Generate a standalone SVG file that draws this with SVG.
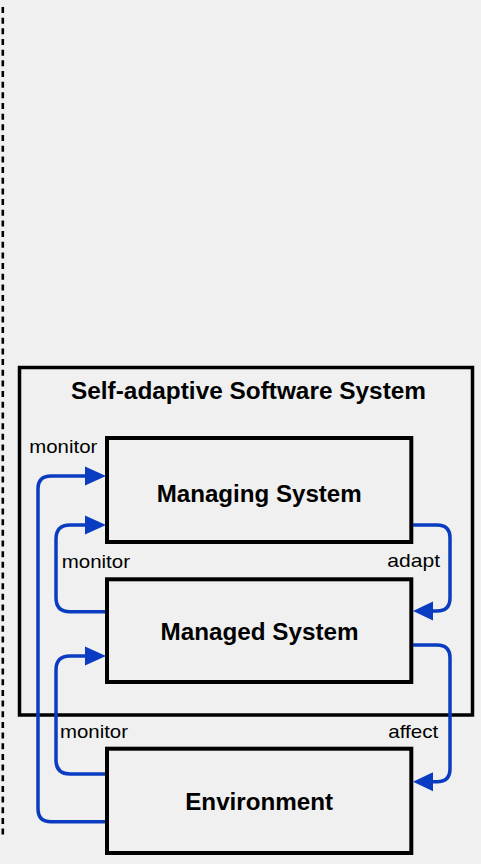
<svg xmlns="http://www.w3.org/2000/svg" width="481" height="864" viewBox="0 0 481 864">
  <style>
    .box { fill: #f0f0f0; stroke: #000; stroke-width: 4; }
    .frame { fill: none; stroke: #000; stroke-width: 3.5; }
    .title { font-family: "Liberation Sans", Arial, sans-serif; font-weight: bold; font-size: 23px; fill: #000; }
    .name { font-family: "Liberation Sans", Arial, sans-serif; font-weight: bold; font-size: 23px; fill: #000; text-anchor: middle; }
    .lbl { font-family: "Liberation Sans", Arial, sans-serif; font-size: 19px; fill: #000; }
    .flow { fill: none; stroke: #0a3cc2; stroke-width: 3.5; stroke-linejoin: round; }
    .head { fill: #0a3cc2; }
  </style>
  <rect width="481" height="864" fill="#f0f0f0"/>

  <!-- dashed boundary on the left -->
  <line x1="2.8" y1="7" x2="2.8" y2="839" stroke="#000" stroke-width="2.6" stroke-dasharray="6 4.67"/>

  <!-- enclosing system -->
  <g id="self-adaptive-system">
    <rect class="frame" x="19.5" y="367.5" width="453" height="347.5"/>
    <text class="title" x="71" y="399" textLength="355" lengthAdjust="spacingAndGlyphs">Self-adaptive Software System</text>
  </g>

  <g id="managing-system">
    <rect class="box" x="107" y="438" width="304.3" height="104"/>
    <text class="name" x="259.2" y="501.7" textLength="205" lengthAdjust="spacingAndGlyphs">Managing System</text>
  </g>

  <g id="managed-system">
    <rect class="box" x="107" y="579.3" width="304.3" height="102.7"/>
    <text class="name" x="259.5" y="640" textLength="198" lengthAdjust="spacingAndGlyphs">Managed System</text>
  </g>

  <g id="environment">
    <rect class="box" x="107" y="748.7" width="304.3" height="104.3"/>
    <text class="name" x="259.2" y="810" textLength="148" lengthAdjust="spacingAndGlyphs">Environment</text>
  </g>

  <!-- feedback connectors -->
  <g id="connectors">
    <!-- environment monitored by managing system -->
    <path class="flow" d="M105 821.7 H51 Q38 821.7 38 808.7 V489 Q38 476 51 476 H87"/>
    <polygon class="head" points="106,476 85,466.5 85,485.5"/>
    <!-- managed system monitored by managing system -->
    <path class="flow" d="M105 611.7 H70 Q56 611.7 56 597.7 V539 Q56 525 70 525 H87"/>
    <polygon class="head" points="106,525 85,515.5 85,534.5"/>
    <!-- environment monitored by managed system -->
    <path class="flow" d="M105 774 H70 Q56 774 56 760 V670 Q56 656 70 656 H87"/>
    <polygon class="head" points="106,656 85,646.5 85,665.5"/>
    <!-- adapt: managing system to managed system -->
    <path class="flow" d="M413 525 H437 Q450 525 450 538 V598 Q450 611 437 611 H431"/>
    <polygon class="head" points="413,611 433,601.5 433,620.5"/>
    <!-- affect: managed system to environment -->
    <path class="flow" d="M413 645 H437 Q450 645 450 658 V768.7 Q450 781.7 437 781.7 H431"/>
    <polygon class="head" points="413,781.7 433,772.2 433,791.2"/>

    <text class="lbl" x="29.3" y="452.7" textLength="68" lengthAdjust="spacingAndGlyphs">monitor</text>
    <text class="lbl" x="61.7" y="568.3" textLength="68.3" lengthAdjust="spacingAndGlyphs">monitor</text>
    <text class="lbl" x="387.3" y="566.7" textLength="52.7" lengthAdjust="spacingAndGlyphs">adapt</text>
    <text class="lbl" x="60" y="738.3" textLength="68" lengthAdjust="spacingAndGlyphs">monitor</text>
    <text class="lbl" x="388.3" y="738.3" textLength="50" lengthAdjust="spacingAndGlyphs">affect</text>
  </g>
</svg>
